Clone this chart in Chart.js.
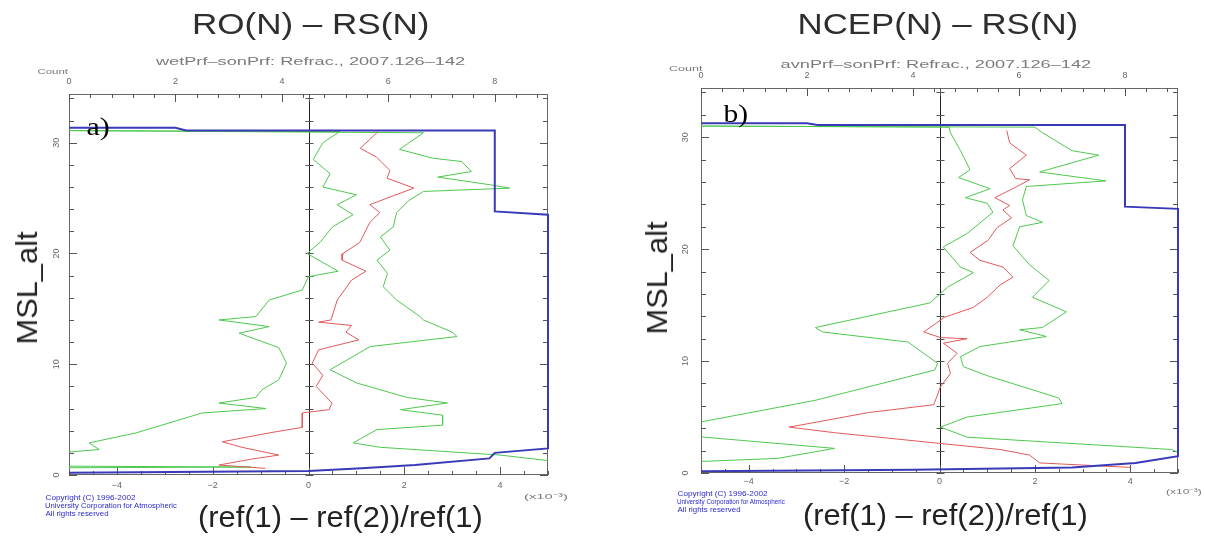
<!DOCTYPE html>
<html>
<head>
<meta charset="utf-8">
<title>Refractivity differences</title>
<script src="https://cdn.jsdelivr.net/npm/chart.js@4.4.1/dist/chart.umd.min.js"></script>
<style>
body { margin:0; width:1205px; height:538px; background:#fff; position:relative; overflow:hidden; font-family:"Liberation Sans", Arial, sans-serif; }
canvas { position:absolute; top:0; }
#chartA { left:0; }
#chartB { left:600px; }
.lbl { position:absolute; white-space:nowrap; line-height:1; transform-origin:center; }
.title { font-size:30px; color:#2e2e2e; }
.sub { font-size:11px; color:#7a7a7a; }
.axt { font-size:30px; color:#222; }
.tag { font-family:"Liberation Serif", "Times New Roman", serif; font-size:26px; color:#000; }
.small { font-size:8px; color:#777; }
.copy { font-size:7px; color:#2a2ad0; }
</style>
</head>
<body>
<canvas id="chartA" width="600" height="538"></canvas>
<canvas id="chartB" width="605" height="538"></canvas>
<script>
// profiles: [altitude km, value]; mean and mean +/- std in units of 1e-3, count on the top axis
const meanA = [[31.0,1.45],[30.3,1.28],[29.5,1.08],[28.7,1.42],[27.5,1.7],[26.8,1.64],[25.9,2.2],[25.1,1.7],[24.4,1.28],[23.7,1.49],[22.8,1.28],[21.0,1.07],[20.0,0.72],[19.4,0.7],[18.4,1.2],[17.6,0.9],[15.8,0.6],[14.0,0.47],[13.8,0.21],[13.5,0.9],[12.9,0.78],[12.2,1.05],[11.3,0.21],[10.1,0.08],[9.0,0.3],[8.0,0.16],[6.5,0.49],[5.9,0.43],[5.6,-0.13],[4.3,-0.13],[3.8,-0.82],[3.0,-1.8],[2.5,-1.39],[1.8,-0.62],[1.4,-1.24],[0.9,-1.87],[0.6,-0.9]];
const lowA = [[31.1,-5.2],[31.0,0.65],[30.0,0.3],[28.5,0.1],[27.2,0.45],[26.0,0.3],[25.3,1.0],[24.4,0.6],[23.5,0.93],[22.4,0.5],[21.0,0.24],[20.0,-0.03],[18.4,0.62],[17.9,0.0],[16.7,-0.13],[15.8,-0.82],[14.3,-1.1],[14.0,-1.87],[13.4,-0.82],[12.8,-1.45],[11.5,-0.62],[10.1,-0.46],[8.6,-0.62],[7.7,-0.97],[7.0,-1.1],[6.5,-1.87],[6.0,-0.89],[5.6,-2.22],[3.8,-3.6],[2.9,-4.58],[2.3,-4.37],[2.0,-5.2],[0.8,-5.2],[0.72,-1.2],[0.65,-5.2]];
const highA = [[31.1,-5.2],[30.9,2.4],[29.4,1.9],[28.6,2.6],[28.3,3.2],[27.4,3.4],[26.9,2.7],[26.2,3.8],[25.9,4.2],[25.6,2.4],[24.8,2.1],[23.7,1.84],[22.4,1.77],[21.5,1.5],[20.3,1.7],[19.4,1.43],[18.2,1.65],[17.0,1.56],[15.8,1.84],[14.3,2.33],[14.0,2.4],[12.9,3.0],[12.5,3.1],[11.6,1.29],[9.5,0.45],[8.3,1.01],[7.0,2.06],[6.5,2.9],[5.9,1.92],[5.4,2.8],[4.5,2.8],[4.1,1.43],[2.9,0.93],[2.5,1.5],[1.8,4.0],[1.2,5.2]];
const countA = [[31.35,0],[31.35,2.0],[31.1,2.2],[31.1,8],[23.8,8],[23.5,9],[2.4,9],[2.0,8],[1.5,7.9],[0.9,6.5],[0.6,5.5],[0.35,4.5],[0.2,0]];

const meanB = [[30.6,1.41],[29.5,1.47],[28.4,1.82],[27.2,1.47],[26.3,1.6],[26.2,1.89],[25.5,1.58],[24.6,1.16],[23.9,1.47],[23.5,1.33],[22.8,1.51],[21.9,1.2],[20.8,1.02],[19.7,0.64],[19.0,0.85],[18.4,1.33],[17.5,1.54],[16.8,1.27],[15.7,1.0],[14.8,0.71],[13.9,0.1],[12.6,-0.33],[12.1,0.02],[12.0,0.58],[11.6,0.08],[10.7,0.37],[9.8,0.17],[8.9,0.23],[7.7,0.02],[6.1,-0.12],[5.4,-1.49],[4.1,-3.15],[3.6,-2.2],[2.7,-0.12],[2.1,1.27],[1.6,1.89],[0.9,2.1],[0.5,4.0]];
const lowB = [[31.0,-5.2],[30.9,0.2],[30.4,0.23],[28.8,0.44],[27.1,0.64],[26.4,0.4],[25.4,1.06],[24.6,0.54],[24.1,1.0],[23.3,1.12],[21.4,0.58],[20.2,0.08],[18.4,0.44],[17.9,0.71],[16.6,0.17],[15.2,-0.2],[13.0,-2.6],[12.6,-2.45],[11.7,-0.66],[9.8,-0.04],[9.2,-0.1],[6.5,-2.6],[4.4,-5.2],[3.3,-5.2],[2.2,-2.2],[1.3,-3.4],[1.0,-5.2]];
const highB = [[31.0,-5.2],[30.9,2.0],[30.4,2.16],[28.8,2.78],[28.4,3.34],[26.9,2.1],[26.1,3.49],[25.6,1.82],[24.4,1.74],[23.0,1.82],[22.4,2.16],[22.0,1.68],[20.3,1.54],[18.6,1.89],[17.2,2.3],[15.7,1.95],[14.4,2.66],[13.0,2.16],[12.8,1.68],[12.2,2.24],[11.3,0.85],[10.4,0.44],[9.5,0.5],[8.7,1.0],[6.7,2.5],[6.2,2.57],[5.0,0.58],[4.1,0.02],[3.2,0.58],[2.1,4.86],[1.5,5.2]];
const countB = [[31.25,0],[31.25,2.0],[31.1,2.2],[31.1,8],[23.8,8],[23.6,9],[2.2,9],[1.5,9],[0.9,8.2],[0.5,7.0],[0.3,4.0],[0.15,0]];

const xTicks = [-4, -2, 0, 2, 4];
const altTicks = [0, 10, 20, 30];
const countTicks = [0, 2, 4, 6, 8];

function pts(arr) {
  return arr.map(p => ({x: p[1], y: p[0]}));
}

function line(ctx, x1, y1, x2, y2) {
  ctx.beginPath();
  ctx.moveTo(x1, y1);
  ctx.lineTo(x2, y2);
  ctx.stroke();
}

// IDL-style frame: inward ticks, zero line and small tick labels,
// drawn under the profiles so the count line can run along the edge
const axisFrame = {
  id: 'axisFrame',
  beforeDatasetsDraw(chart, args, opts) {
    const ctx = chart.ctx;
    const a = chart.chartArea;
    const sx = chart.scales.x, sy = chart.scales.y, sc = chart.scales.xc;
    ctx.save();
    ctx.lineWidth = 1;
    ctx.strokeStyle = '#666';
    ctx.strokeRect(a.left + 0.5, a.top + 0.5, a.right - a.left - 1, a.bottom - a.top - 1);

    const x0 = Math.round(sx.getPixelForValue(0)) + 0.5;
    ctx.strokeStyle = '#222';
    line(ctx, x0, a.top, x0, a.bottom);

    ctx.strokeStyle = '#555';
    for (let h = 0; h <= sy.max; h += 2) {
      const py = Math.round(sy.getPixelForValue(h)) + 0.5;
      const len = h % 10 === 0 ? 8 : 5;
      line(ctx, a.left, py, a.left + len, py);
      line(ctx, a.right - len, py, a.right, py);
      line(ctx, x0 - 4, py, x0 + 4, py);
    }
    for (let i = -10; i <= 10; i++) {
      const px = Math.round(sx.getPixelForValue(i / 2)) + 0.5;
      const len = i % 4 === 0 ? 8 : 4;
      line(ctx, px, a.bottom - len, px, a.bottom);
    }
    for (let i = 0; i * 0.4 <= sc.max + 0.01; i++) {
      const px = Math.round(sc.getPixelForValue(i * 0.4)) + 0.5;
      const len = i % 5 === 0 ? 8 : 4;
      line(ctx, px, a.top, px, a.top + len);
    }
    line(ctx, x0, a.top, x0, a.top + 8);

    ctx.fillStyle = '#666';
    ctx.font = '9px "Liberation Sans", Arial, sans-serif';
    ctx.textAlign = 'center';
    ctx.textBaseline = 'middle';
    xTicks.forEach(v => {
      ctx.fillText(String(v).replace('-', '\u2212'), sx.getPixelForValue(v), a.bottom + opts.bottomGap);
    });
    countTicks.forEach(v => {
      ctx.fillText(String(v), sc.getPixelForValue(v), a.top - opts.topGap);
    });
    altTicks.forEach(v => {
      ctx.save();
      ctx.translate(a.left - opts.leftGap, sy.getPixelForValue(v));
      ctx.rotate(-Math.PI / 2);
      ctx.fillText(String(v), 0, 0);
      ctx.restore();
    });
    ctx.restore();
  }
};

function makePanel(id, pad, mean, low, high, count, gaps) {
  const profile = (data, color, w) => ({
    data: pts(data), showLine: true, borderColor: color, borderWidth: w,
    pointRadius: 0, xAxisID: 'x', yAxisID: 'y'
  });
  const countSet = profile(count, '#3a3ab8', 2);
  countSet.xAxisID = 'xc';
  countSet.clip = {left: 0, top: 0, right: 2, bottom: 0};
  return new Chart(document.getElementById(id), {
    type: 'scatter',
    data: {
      datasets: [
        countSet,
        profile(mean, '#e25a5a', 1),
        profile(low, '#4fc84f', 1),
        profile(high, '#4fc84f', 1)
      ]
    },
    options: {
      responsive: false,
      animation: false,
      layout: { padding: pad },
      plugins: { legend: { display: false }, tooltip: { enabled: false }, axisFrame: gaps },
      scales: {
        x: { type: 'linear', position: 'bottom', min: -5, max: 5, display: false },
        xc: { type: 'linear', position: 'top', min: 0, max: 9, display: false },
        y: { type: 'linear', position: 'left', min: 0, max: 34.4, display: false }
      }
    },
    plugins: [axisFrame]
  });
}

makePanel('chartA', {left: 69, right: 52, top: 94, bottom: 63}, meanA, lowA, highA, countA,
  {topGap: 12, bottomGap: 11, leftGap: 12});
makePanel('chartB', {left: 101, right: 27, top: 88, bottom: 65}, meanB, lowB, highB, countB,
  {topGap: 12, bottomGap: 9, leftGap: 15});

// text around the plots, stretched to the widths they take in the figure
function label(text, cls, cx, cy, w, rot) {
  const el = document.createElement('div');
  el.className = 'lbl ' + cls;
  el.textContent = text;
  document.body.appendChild(el);
  const ow = el.offsetWidth, oh = el.offsetHeight;
  const s = w ? w / ow : 1;
  el.style.left = (cx - ow / 2) + 'px';
  el.style.top = (cy - oh / 2) + 'px';
  el.style.transform = 'rotate(' + (rot || 0) + 'deg) scaleX(' + s + ')';
}

function copyright(x, y, widths) {
  const lines = ['Copyright (C) 1996-2002', 'University Corporation for Atmospheric', 'All rights reserved'];
  lines.forEach((t, i) => label(t, 'copy', x + widths[i] / 2, y + i * 8, widths[i]));
}

label('RO(N) \u2013 RS(N)', 'title', 310, 24, 237);
label('wetPrf\u2013sonPrf: Refrac., 2007.126\u2013142', 'sub', 310, 61, 309);
label('Count', 'small', 52, 72, 30);
label('a)', 'tag', 98, 127, 23);
label('MSL_alt', 'axt', 27, 288, 113, -90);
label('(ref(1) \u2013 ref(2))/ref(1)', 'axt', 340, 517, 285);
label('(x10\u207B\u00B3)', 'small', 546, 497, 44);
copyright(45, 497, [90, 132, 63]);

label('NCEP(N) \u2013 RS(N)', 'title', 938, 24, 281);
label('avnPrf\u2013sonPrf: Refrac., 2007.126\u2013142', 'sub', 936, 64, 311);
label('Count', 'small', 685, 69, 33);
label('b)', 'tag', 736, 114, 25);
label('MSL_alt', 'axt', 657, 278, 113, -90);
label('(ref(1) \u2013 ref(2))/ref(1)', 'axt', 945, 515, 285);
label('(x10\u207B\u00B3)', 'small', 1184, 492, 36);
copyright(677, 493, [90, 108, 63]);
</script>
</body>
</html>
